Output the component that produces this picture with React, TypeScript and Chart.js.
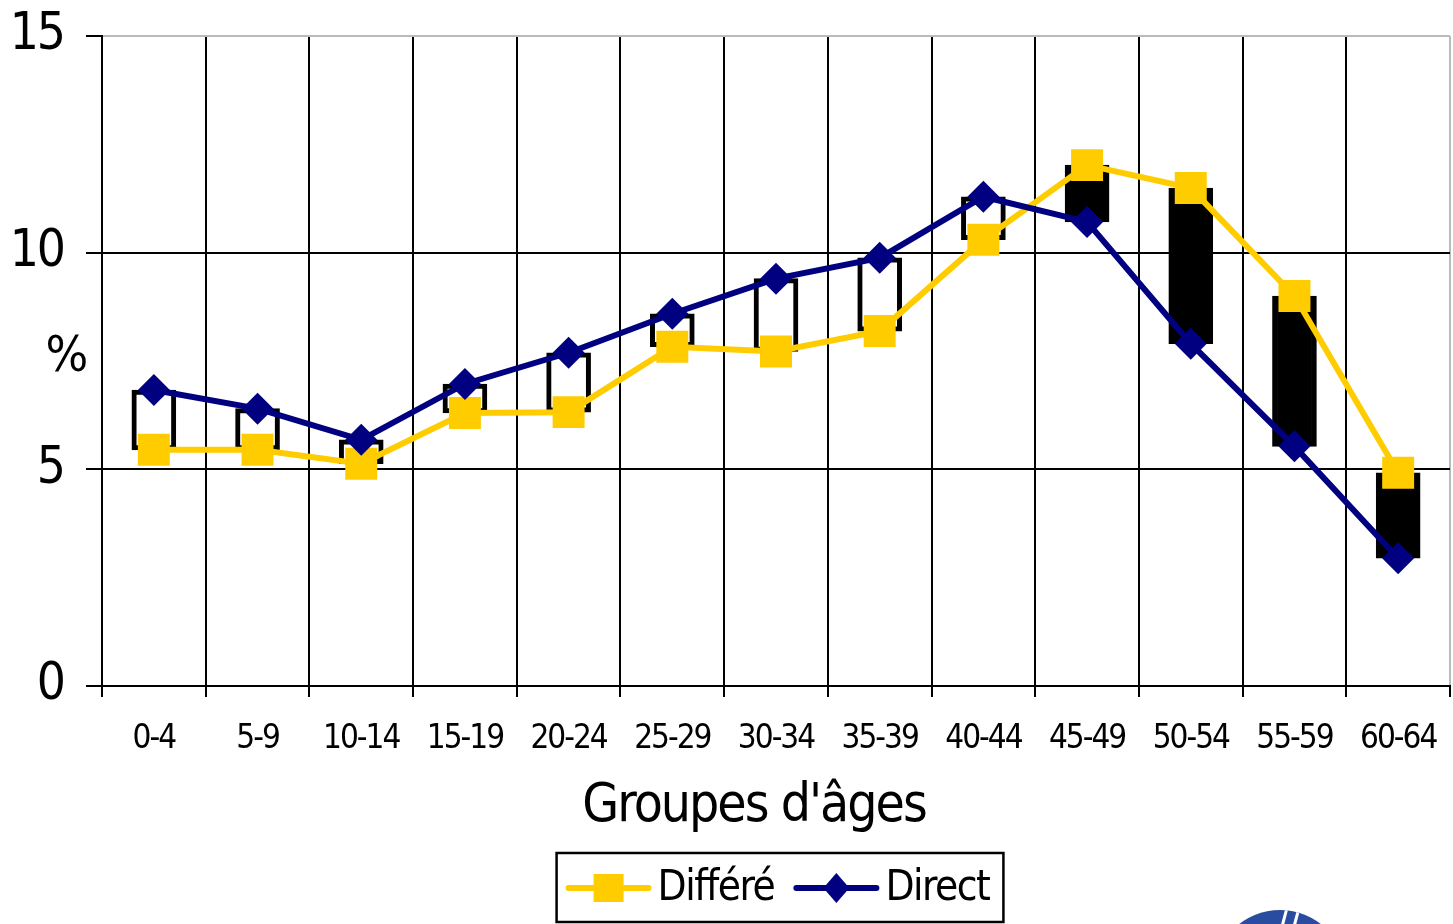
import React, { useEffect, useRef } from "react";
import { Chart, registerables } from "chart.js";

Chart.register(...registerables);

const categories = ["0-4", "5-9", "10-14", "15-19", "20-24", "25-29", "30-34", "35-39", "40-44", "45-49", "50-54", "55-59", "60-64"];
const differe = [5.45, 5.45, 5.13, 6.3, 6.32, 7.83, 7.72, 8.19, 10.3, 12.02, 11.49, 9.0, 4.92];
const direct = [6.83, 6.4, 5.68, 6.97, 7.69, 8.59, 9.4, 9.88, 11.29, 10.71, 7.9, 5.53, 2.95];
const yTicks = [0, 5, 10, 15];
const seriesNames = ["Différé", "Direct"];
const xTitle = "Groupes d'âges";
const yTitle = "%";

const FONT = "'Liberation Sans Narrow', 'Arial Narrow', 'DejaVu Sans Condensed', sans-serif";
const YELLOW = "#FFCC00";
const NAVY = "#000080";

const spacingPlugin = {
  id: "spacing",
  beforeDraw(chart: any) {
    (chart.ctx as any).letterSpacing = "-2px";
  },
  afterDraw(chart: any) {
    (chart.ctx as any).letterSpacing = "0px";
  },
};

const overlayPlugin = {
  id: "overlay",
  afterDraw(chart: any) {
    const ctx = chart.ctx as CanvasRenderingContext2D;
    const { left, right, top, bottom } = chart.chartArea;
    ctx.save();
    (ctx as any).letterSpacing = "-1.5px";
    // y axis title
    ctx.fillStyle = "#000";
    ctx.font = `50px ${FONT}`;
    ctx.textAlign = "center";
    ctx.textBaseline = "middle";
    ctx.fillText(yTitle, left - 36, (top + bottom) / 2 - 3);

    // x axis title
    const xScale = chart.scales.x;
    (ctx as any).letterSpacing = "-2px";
    ctx.font = `53px ${FONT}`;
    ctx.fillText(xTitle, (left + right) / 2 - 22, xScale.bottom - 33);

    // legend
    (ctx as any).letterSpacing = "-1.5px";
    const boxTop = xScale.bottom + 13;
    const boxH = 69;
    const lineLen = 80;
    ctx.font = `42px ${FONT}`;
    const w1 = ctx.measureText(seriesNames[0]).width;
    const w2 = ctx.measureText(seriesNames[1]).width;
    const padL = 12, gap = 9, between = 22, padR = 14;
    const boxW = padL + lineLen + gap + w1 + between + lineLen + gap + w2 + padR;
    const cx = (left + right) / 2 + 4;
    const boxLeft = cx - boxW / 2;
    ctx.lineWidth = 2.5;
    ctx.strokeStyle = "#000";
    ctx.fillStyle = "#fff";
    ctx.fillRect(boxLeft, boxTop, boxW, boxH);
    ctx.strokeRect(boxLeft, boxTop, boxW, boxH);
    const ly = boxTop + 35;
    let x = boxLeft + padL;
    // item 1
    ctx.lineCap = "round";
    ctx.lineWidth = 6;
    ctx.strokeStyle = YELLOW;
    ctx.beginPath();
    ctx.moveTo(x, ly);
    ctx.lineTo(x + lineLen, ly);
    ctx.stroke();
    ctx.fillStyle = YELLOW;
    ctx.fillRect(x + lineLen / 2 - 15, ly - 14, 30, 28);
    x += lineLen + gap;
    ctx.fillStyle = "#000";
    ctx.textAlign = "left";
    ctx.textBaseline = "middle";
    ctx.fillText(seriesNames[0], x, ly + 1);
    x += w1 + between;
    // item 2
    ctx.strokeStyle = NAVY;
    ctx.beginPath();
    ctx.moveTo(x, ly);
    ctx.lineTo(x + lineLen, ly);
    ctx.stroke();
    ctx.fillStyle = NAVY;
    const dx = x + lineLen / 2;
    ctx.beginPath();
    ctx.moveTo(dx, ly - 15);
    ctx.lineTo(dx + 13, ly);
    ctx.lineTo(dx, ly + 15);
    ctx.lineTo(dx - 13, ly);
    ctx.closePath();
    ctx.fill();
    x += lineLen + gap;
    ctx.fillStyle = "#000";
    ctx.fillText(seriesNames[1], x, ly + 1);
    ctx.restore();
  },
};

export default function App() {
  const canvasRef = useRef<HTMLCanvasElement | null>(null);

  useEffect(() => {
    const canvas = canvasRef.current;
    if (!canvas) return;
    const chart = new Chart(canvas, {
      type: "line",
      data: {
        labels: categories,
        datasets: [
          {
            type: "bar",
            label: "updown",
            data: categories.map((_, i) => [differe[i], direct[i]]) as any,
            backgroundColor: categories.map((_, i) => (direct[i] > differe[i] ? "#ffffff" : "#000000")),
            borderColor: "#000",
            borderWidth: 5,
            borderSkipped: false,
            barThickness: 44,
            order: 3,
          } as any,
          {
            type: "line",
            label: seriesNames[0],
            data: differe,
            borderColor: YELLOW,
            backgroundColor: YELLOW,
            borderWidth: 6,
            pointStyle: "rect",
            pointRadius: 22.6,
            pointBorderWidth: 0,
            pointBackgroundColor: YELLOW,
            pointBorderColor: YELLOW,
            tension: 0,
            order: 2,
          },
          {
            type: "line",
            label: seriesNames[1],
            data: direct,
            borderColor: NAVY,
            backgroundColor: NAVY,
            borderWidth: 6,
            pointStyle: "rectRot",
            pointRadius: 16,
            pointBorderWidth: 0,
            pointBackgroundColor: NAVY,
            pointBorderColor: NAVY,
            tension: 0,
            order: 1,
          },
        ],
      },
      options: {
        animation: false,
        responsive: false,
        maintainAspectRatio: false,
        layout: { autoPadding: false, padding: { top: 36, right: 3, bottom: 84, left: 0 } },
        plugins: {
          legend: { display: false },
          tooltip: { enabled: false },
        },
        scales: {
          x: {
            type: "category",
            offset: true,
            grid: {
              offset: true,
              color: (c: any) => (c.tick ? "#000" : "#bbbbbb"),
              lineWidth: 2,
              tickLength: 11,
              tickColor: "#000",
              tickWidth: 2,
            },
            border: { color: "#000", width: 2 },
            ticks: {
              font: { family: FONT, size: 33 },
              color: "#000",
              padding: 23,
              maxRotation: 0,
              autoSkip: false,
            },
            title: { display: false },
            afterFit: (s: any) => {
              s.height = 154;
              s.paddingLeft = 0;
              s.paddingRight = 0;
            },
          },
          y: {
            min: 0,
            max: 15,
            afterBuildTicks: (s: any) => {
              s.ticks = yTicks.map((v) => ({ value: v }));
            },
            grid: {
              color: (c: any) => (c.tick && c.tick.value === 15 ? "#bbbbbb" : "#000"),
              lineWidth: 2,
              tickLength: 16,
              tickColor: "#000",
              tickWidth: 2,
            },
            border: { color: "#000", width: 2 },
            ticks: {
              font: { family: FONT, size: 51 },
              color: "#000",
              padding: 22,
            },
            afterFit: (s: any) => {
              s.width = 102;
              s.paddingTop = 0;
              s.paddingBottom = 0;
            },
          },
        },
      },
      plugins: [spacingPlugin, overlayPlugin],
    });
    return () => chart.destroy();
  }, []);

  return (
    <div
      style={{
        position: "fixed",
        left: 0,
        top: 0,
        width: 1453,
        height: 924,
        overflow: "hidden",
        background: "#fff",
      }}
    >
      <canvas ref={canvasRef} width={1453} height={924} style={{ display: "block" }} />
      <div
        style={{
          position: "absolute",
          left: 1214,
          top: 910,
          width: 132,
          height: 132,
          borderRadius: "50%",
          background: "#2a4ca0",
          overflow: "hidden",
        }}
      >
        <div style={{ position: "absolute", left: 68, top: -4, width: 3, height: 30, background: "#fff", transform: "rotate(15deg)" }} />
        <div style={{ position: "absolute", left: 80, top: -4, width: 3, height: 30, background: "#fff", transform: "rotate(15deg)" }} />
      </div>
    </div>
  );
}
